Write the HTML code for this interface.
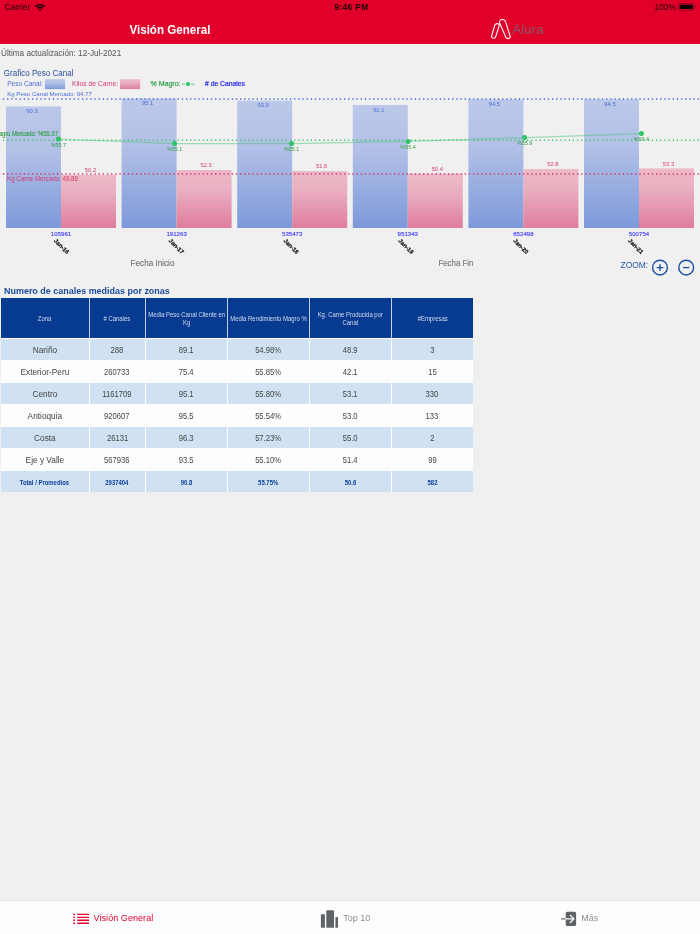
<!DOCTYPE html>
<html lang="es">
<head>
<meta charset="utf-8">
<title>Visión General</title>
<style>
html,body{margin:0;padding:0;}
body{width:700px;height:934px;overflow:hidden;background:#f0f0f0;font-family:"Liberation Sans",sans-serif;position:relative;}
.abs{position:absolute;white-space:nowrap;}
#hdr{position:absolute;left:0;top:0;width:700px;height:44px;background:#e1002a;}
.sb{position:absolute;top:2.2px;font-size:8.4px;line-height:10px;color:#1a0006;white-space:nowrap;}
#title{position:absolute;left:127.6px;top:22px;width:80.6px;text-align:center;font-weight:bold;font-size:12px;line-height:16px;color:#fff;white-space:nowrap;}
#title span{display:inline-block;transform:scaleX(0.965);transform-origin:50% 50%;}
#upd{left:1px;top:47.7px;font-size:8.5px;line-height:11px;color:#555;transform:scaleX(0.96);transform-origin:0 50%;}
/* table */
#tbl{position:absolute;left:1px;top:297.5px;width:472px;background:#fff;padding-bottom:0.5px;}
.tr{display:flex;height:21px;margin-top:1px;}
.tr.h{height:40px;margin-top:0;}
.tr>div{padding-top:2px;white-space:nowrap;display:flex;align-items:center;justify-content:center;text-align:center;margin-right:1px;font-size:8.3px;color:#444;box-sizing:border-box;}
.tr>div:last-child{margin-right:0;}
.c1{width:88px}.c2{width:55px}.c3{width:81.5px}.c4{width:81px}.c5{width:81px}.c6{width:81.5px}
.tr.h{background:#c3cde3;}
.tr.h>div{background:#073b91;color:#d3dcee;font-size:6.6px;line-height:7.7px;padding-top:2.8px;}
.tr.b>div{background:#cfe1f2;}
.tr.w>div{background:#fdfdfd;}
.tr.t>div{background:#cfe1f2;color:#0b3f96;font-weight:bold;font-size:6.6px;}
.tr span{display:inline-block;transform:scaleX(0.92);}
.tr .c1 span{transform:scaleX(1.0);}
.tr.h span,.tr.h .c1 span{transform:scaleX(0.9);}
.tr.t span,.tr.t .c1 span{transform:scaleX(0.9);}
#ttl2{left:4.3px;top:286.3px;font-size:9.2px;line-height:11px;font-weight:bold;color:#1a4a9c;transform:scaleX(0.975);transform-origin:0 50%;}
/* tab bar */
#tab{position:absolute;left:0;top:900.2px;width:700px;height:34px;background:#fdfdfd;border-top:0.5px solid #e6e6e6;box-sizing:border-box;}
.tl{position:absolute;top:911.5px;font-size:9px;line-height:12px;white-space:nowrap;color:#8e8e93;}
</style>
</head>
<body>
<div id="hdr"></div>
<div class="sb" style="left:4.6px">Carrier</div>
<svg class="abs" style="left:35px;top:3.7px" width="10" height="7.2" viewBox="0 0 10 7.2"><g fill="none" stroke="#1a0006" stroke-width="1.5" stroke-linecap="butt"><path d="M0.5 2.6 A6.4 6.4 0 0 1 9.5 2.6"/><path d="M2.3 4.4 A3.9 3.9 0 0 1 7.7 4.4"/></g><path d="M5 7.2 L3.6 5.7 A2 2 0 0 1 6.4 5.7 Z" fill="#1a0006"/></svg>
<div class="sb" style="left:334.5px;font-weight:bold;letter-spacing:0.33px;">9:46 PM</div>
<div class="sb" style="left:654.5px;">100%</div>
<svg class="abs" style="left:677.5px;top:3.3px" width="19" height="7.6" viewBox="0 0 19 7.6"><rect x="0.4" y="0.4" width="15.8" height="6.8" rx="1.6" fill="none" stroke="#7a0018" stroke-width="0.8"/><rect x="1.7" y="1.7" width="13.2" height="4.2" rx="0.7" fill="#100004"/><path d="M17.1 2.5 A1.4 1.4 0 0 1 17.1 5.1 Z" fill="#7a0018"/></svg>
<div id="title"><span>Visión General</span></div>
<svg class="abs" style="left:488px;top:16px" width="60" height="26" viewBox="488 16 60 26">
<g fill="none" stroke="#fff" stroke-width="1.1" stroke-linejoin="round" stroke-linecap="round">
<path d="M499.6 23 C499.0 21 500.6 19.5 502.6 19.5 C504.4 19.5 505.3 20.8 505.7 22.2 L510.1 36 C510.6 37.6 509.4 38.6 508 38.6 C506.8 38.6 506.2 38 505.8 37.2 Z"/>
<path d="M499.1 24.8 C498.7 24 498 23.6 497.2 23.6 C496 23.6 495.2 24.2 494.8 25.2 L491.6 36 C491.2 37.4 492.4 38.2 493.5 38.2 C494.6 38.2 495.4 37.6 495.7 36.8 L499.3 25.3"/>
</g>
<text x="512.6" y="33.8" font-family="Liberation Sans, sans-serif" font-size="13" fill="#82596a" textLength="30.7" lengthAdjust="spacingAndGlyphs">Alura</text>
</svg>
<div id="upd" class="abs">Última actualización: 12-Jul-2021</div>

<svg class="abs" style="left:0;top:60px" width="700" height="225" viewBox="0 60 700 225">
<defs><linearGradient id="gb" x1="0" y1="0" x2="0" y2="1"><stop offset="0" stop-color="#bcc8e9"/><stop offset="0.35" stop-color="#b3c1e7"/><stop offset="1" stop-color="#7d99d9"/></linearGradient><linearGradient id="gr" x1="0" y1="0" x2="0" y2="1"><stop offset="0" stop-color="#ecb9c7"/><stop offset="0.35" stop-color="#e9afc0"/><stop offset="1" stop-color="#e07c9d"/></linearGradient></defs>
<rect x="6.0" y="106.4" width="55" height="121.6" fill="url(#gb)"/>
<rect x="61.0" y="174.9" width="55" height="53.1" fill="url(#gr)"/>
<rect x="121.6" y="98.6" width="55" height="129.4" fill="url(#gb)"/>
<rect x="176.6" y="170.0" width="55" height="58.0" fill="url(#gr)"/>
<rect x="237.2" y="100.6" width="55" height="127.4" fill="url(#gb)"/>
<rect x="292.2" y="171.0" width="55" height="57.0" fill="url(#gr)"/>
<rect x="352.8" y="105.0" width="55" height="123.0" fill="url(#gb)"/>
<rect x="407.8" y="173.6" width="55" height="54.4" fill="url(#gr)"/>
<rect x="468.4" y="99.4" width="55" height="128.6" fill="url(#gb)"/>
<rect x="523.4" y="169.0" width="55" height="59.0" fill="url(#gr)"/>
<rect x="584.0" y="99.4" width="55" height="128.6" fill="url(#gb)"/>
<rect x="639.0" y="168.4" width="55" height="59.6" fill="url(#gr)"/>
<path d="M0 99 H700" stroke="#4a6fd6" stroke-width="1.5" stroke-dasharray="1.4 2.76" stroke-dashoffset="1.3" fill="none"/>
<path d="M0 140.2 H700" stroke="#45c673" stroke-width="1.4" stroke-dasharray="1.3 2.86" stroke-dashoffset="1.25" fill="none"/>
<path d="M0 174 H700" stroke="#d8386e" stroke-width="1.5" stroke-dasharray="1.4 2.76" stroke-dashoffset="1.3" fill="none"/>
<polyline points="58.4,139 174.6,143.6 291.6,143.6 408,141.4 524.6,137.6 641.4,133.6" fill="none" stroke="#45c877" stroke-width="1.1" stroke-opacity="0.5"/>
<circle cx="58.4" cy="139" r="2.5" fill="#2fc364"/>
<circle cx="174.6" cy="143.6" r="2.5" fill="#2fc364"/>
<circle cx="291.6" cy="143.6" r="2.5" fill="#2fc364"/>
<circle cx="408" cy="141.4" r="2.5" fill="#2fc364"/>
<circle cx="524.6" cy="137.6" r="2.5" fill="#2fc364"/>
<circle cx="641.4" cy="133.6" r="2.5" fill="#2fc364"/>
<text x="32.0" y="113.2" font-family="Liberation Sans, sans-serif" font-size="5.8" fill="#4a6fd6" text-anchor="middle">90.3</text>
<text x="90.5" y="172.0" font-family="Liberation Sans, sans-serif" font-size="5.8" fill="#d8386e" text-anchor="middle">50.2</text>
<text x="58.4" y="146.6" font-family="Liberation Sans, sans-serif" font-size="6" fill="#2e9e45" text-anchor="middle" textLength="15.4" lengthAdjust="spacingAndGlyphs">%55.7</text>
<text x="61.0" y="236" font-family="Liberation Sans, sans-serif" font-size="5.8" fill="#4848ff" stroke="#4848ff" stroke-width="0.15" text-anchor="middle" textLength="20.4" lengthAdjust="spacingAndGlyphs">105961</text>
<text x="61.6" y="248.3" font-family="Liberation Sans, sans-serif" font-size="5.9" font-weight="bold" fill="#111" stroke="#111" stroke-width="0.2" text-anchor="middle" textLength="18.6" lengthAdjust="spacingAndGlyphs" transform="rotate(45 61.6 246.2)">Jan-16</text>
<text x="147.6" y="105.4" font-family="Liberation Sans, sans-serif" font-size="5.8" fill="#4a6fd6" text-anchor="middle">95.1</text>
<text x="206.1" y="167.1" font-family="Liberation Sans, sans-serif" font-size="5.8" fill="#d8386e" text-anchor="middle">52.3</text>
<text x="174.6" y="151.2" font-family="Liberation Sans, sans-serif" font-size="6" fill="#2e9e45" text-anchor="middle" textLength="15.4" lengthAdjust="spacingAndGlyphs">%55.1</text>
<text x="176.6" y="236" font-family="Liberation Sans, sans-serif" font-size="5.8" fill="#4848ff" stroke="#4848ff" stroke-width="0.15" text-anchor="middle" textLength="20.4" lengthAdjust="spacingAndGlyphs">191263</text>
<text x="176.4" y="248.3" font-family="Liberation Sans, sans-serif" font-size="5.9" font-weight="bold" fill="#111" stroke="#111" stroke-width="0.2" text-anchor="middle" textLength="18.6" lengthAdjust="spacingAndGlyphs" transform="rotate(45 176.4 246.2)">Jan-17</text>
<text x="263.2" y="107.4" font-family="Liberation Sans, sans-serif" font-size="5.8" fill="#4a6fd6" text-anchor="middle">93.9</text>
<text x="321.7" y="168.1" font-family="Liberation Sans, sans-serif" font-size="5.8" fill="#d8386e" text-anchor="middle">51.6</text>
<text x="291.6" y="151.2" font-family="Liberation Sans, sans-serif" font-size="6" fill="#2e9e45" text-anchor="middle" textLength="15.4" lengthAdjust="spacingAndGlyphs">%55.1</text>
<text x="292.2" y="236" font-family="Liberation Sans, sans-serif" font-size="5.8" fill="#4848ff" stroke="#4848ff" stroke-width="0.15" text-anchor="middle" textLength="20.4" lengthAdjust="spacingAndGlyphs">535473</text>
<text x="291.3" y="248.3" font-family="Liberation Sans, sans-serif" font-size="5.9" font-weight="bold" fill="#111" stroke="#111" stroke-width="0.2" text-anchor="middle" textLength="18.6" lengthAdjust="spacingAndGlyphs" transform="rotate(45 291.3 246.2)">Jan-18</text>
<text x="378.8" y="111.8" font-family="Liberation Sans, sans-serif" font-size="5.8" fill="#4a6fd6" text-anchor="middle">91.1</text>
<text x="437.3" y="170.7" font-family="Liberation Sans, sans-serif" font-size="5.8" fill="#d8386e" text-anchor="middle">50.4</text>
<text x="408.0" y="149.0" font-family="Liberation Sans, sans-serif" font-size="6" fill="#2e9e45" text-anchor="middle" textLength="15.4" lengthAdjust="spacingAndGlyphs">%55.4</text>
<text x="407.8" y="236" font-family="Liberation Sans, sans-serif" font-size="5.8" fill="#4848ff" stroke="#4848ff" stroke-width="0.15" text-anchor="middle" textLength="20.4" lengthAdjust="spacingAndGlyphs">951343</text>
<text x="406.1" y="248.3" font-family="Liberation Sans, sans-serif" font-size="5.9" font-weight="bold" fill="#111" stroke="#111" stroke-width="0.2" text-anchor="middle" textLength="18.6" lengthAdjust="spacingAndGlyphs" transform="rotate(45 406.1 246.2)">Jan-19</text>
<text x="494.4" y="106.2" font-family="Liberation Sans, sans-serif" font-size="5.8" fill="#4a6fd6" text-anchor="middle">94.5</text>
<text x="552.9" y="166.1" font-family="Liberation Sans, sans-serif" font-size="5.8" fill="#d8386e" text-anchor="middle">52.8</text>
<text x="524.6" y="145.2" font-family="Liberation Sans, sans-serif" font-size="6" fill="#2e9e45" text-anchor="middle" textLength="15.4" lengthAdjust="spacingAndGlyphs">%55.9</text>
<text x="523.4" y="236" font-family="Liberation Sans, sans-serif" font-size="5.8" fill="#4848ff" stroke="#4848ff" stroke-width="0.15" text-anchor="middle" textLength="20.4" lengthAdjust="spacingAndGlyphs">652498</text>
<text x="521.0" y="248.3" font-family="Liberation Sans, sans-serif" font-size="5.9" font-weight="bold" fill="#111" stroke="#111" stroke-width="0.2" text-anchor="middle" textLength="18.6" lengthAdjust="spacingAndGlyphs" transform="rotate(45 521.0 246.2)">Jan-20</text>
<text x="610.0" y="106.2" font-family="Liberation Sans, sans-serif" font-size="5.8" fill="#4a6fd6" text-anchor="middle">94.5</text>
<text x="668.5" y="165.5" font-family="Liberation Sans, sans-serif" font-size="5.8" fill="#d8386e" text-anchor="middle">53.3</text>
<text x="641.4" y="141.2" font-family="Liberation Sans, sans-serif" font-size="6" fill="#2e9e45" text-anchor="middle" textLength="15.4" lengthAdjust="spacingAndGlyphs">%56.4</text>
<text x="639.0" y="236" font-family="Liberation Sans, sans-serif" font-size="5.8" fill="#4848ff" stroke="#4848ff" stroke-width="0.15" text-anchor="middle" textLength="20.4" lengthAdjust="spacingAndGlyphs">500754</text>
<text x="635.9" y="248.3" font-family="Liberation Sans, sans-serif" font-size="5.9" font-weight="bold" fill="#111" stroke="#111" stroke-width="0.2" text-anchor="middle" textLength="18.6" lengthAdjust="spacingAndGlyphs" transform="rotate(45 635.9 246.2)">Jan-21</text>
<text x="3.8" y="75.8" font-family="Liberation Sans, sans-serif" font-size="8.3" fill="#2a4d9b" textLength="69.6" lengthAdjust="spacingAndGlyphs">Grafico Peso Canal</text>
<text x="7.2" y="86" font-family="Liberation Sans, sans-serif" font-size="7" fill="#4a6fd6" textLength="35.7" lengthAdjust="spacingAndGlyphs">Peso Canal:</text>
<rect x="44.9" y="79.2" width="20.2" height="9.9" fill="url(#gb)"/>
<text x="72" y="86" font-family="Liberation Sans, sans-serif" font-size="7" fill="#d8386e" textLength="46" lengthAdjust="spacingAndGlyphs">Kilos de Carne:</text>
<rect x="120" y="79.2" width="20.2" height="9.9" fill="url(#gr)"/>
<text x="150.5" y="86" font-family="Liberation Sans, sans-serif" font-size="7" fill="#2e9e45" stroke="#2e9e45" stroke-width="0.2" textLength="30" lengthAdjust="spacingAndGlyphs">% Magro:</text>
<path d="M181.8 84.2 H185 M191.2 84.2 H194.4" stroke="#3fc571" stroke-width="0.9" fill="none"/><circle cx="188" cy="84.1" r="2.1" fill="#2fc364"/>
<text x="205" y="86" font-family="Liberation Sans, sans-serif" font-size="7" fill="#2222ee" stroke="#2222ee" stroke-width="0.2" textLength="40" lengthAdjust="spacingAndGlyphs"># de Canales</text>
<text x="7.2" y="95.7" font-family="Liberation Sans, sans-serif" font-size="6.2" fill="#4a6fd6" textLength="84.8" lengthAdjust="spacingAndGlyphs">Kg Peso Canal Mercado: 94.77</text>
<text x="-13.1" y="136" font-family="Liberation Sans, sans-serif" font-size="7" fill="#2e9e45" stroke="#2e9e45" stroke-width="0.15" textLength="71.1" lengthAdjust="spacingAndGlyphs">% Magro Mercado: %55.57</text>
<text x="7" y="180.6" font-family="Liberation Sans, sans-serif" font-size="6.4" fill="#d8386e" textLength="71" lengthAdjust="spacingAndGlyphs">Kg Carne Mercado: 49.86</text>
<text x="130.6" y="266" font-family="Liberation Sans, sans-serif" font-size="9.4" fill="#777" stroke="#777" stroke-width="0.15" textLength="43.8" lengthAdjust="spacingAndGlyphs">Fecha Inicio</text>
<text x="438.4" y="266" font-family="Liberation Sans, sans-serif" font-size="9.4" fill="#777" stroke="#777" stroke-width="0.15" textLength="35" lengthAdjust="spacingAndGlyphs">Fecha Fin</text>
<text x="620.5" y="268" font-family="Liberation Sans, sans-serif" font-size="8.2" fill="#2a55a5" textLength="27.7" lengthAdjust="spacingAndGlyphs">ZOOM:</text>
<g fill="none" stroke="#1f4fa3" stroke-width="1.4"><circle cx="660" cy="267.6" r="7.4"/><circle cx="686.2" cy="267.6" r="7.4"/><path d="M656.7 267.6 H663.3 M660 264.3 V270.9 M682.9 267.6 H689.5"/></g>
</svg>

<div id="ttl2" class="abs">Numero de canales medidas por zonas</div>
<div id="tbl">
<div class="tr h"><div class="c1"><span>Zona</span></div><div class="c2"><span># Canales</span></div><div class="c3"><span>Media Peso Canal Cliente en<br>Kg</span></div><div class="c4"><span>Media Rendimiento Magro %</span></div><div class="c5"><span>Kg. Carne Producida por<br>Canal</span></div><div class="c6"><span>#Empresas</span></div></div>
<div class="tr b"><div class="c1"><span>Nariño</span></div><div class="c2"><span>288</span></div><div class="c3"><span>89.1</span></div><div class="c4"><span>54.98%</span></div><div class="c5"><span>48.9</span></div><div class="c6"><span>3</span></div></div>
<div class="tr w"><div class="c1"><span>Exterior-Peru</span></div><div class="c2"><span>260733</span></div><div class="c3"><span>75.4</span></div><div class="c4"><span>55.85%</span></div><div class="c5"><span>42.1</span></div><div class="c6"><span>15</span></div></div>
<div class="tr b"><div class="c1"><span>Centro</span></div><div class="c2"><span>1161709</span></div><div class="c3"><span>95.1</span></div><div class="c4"><span>55.80%</span></div><div class="c5"><span>53.1</span></div><div class="c6"><span>330</span></div></div>
<div class="tr w"><div class="c1"><span>Antioquia</span></div><div class="c2"><span>920607</span></div><div class="c3"><span>95.5</span></div><div class="c4"><span>55.54%</span></div><div class="c5"><span>53.0</span></div><div class="c6"><span>133</span></div></div>
<div class="tr b"><div class="c1"><span>Costa</span></div><div class="c2"><span>26131</span></div><div class="c3"><span>96.3</span></div><div class="c4"><span>57.23%</span></div><div class="c5"><span>55.0</span></div><div class="c6"><span>2</span></div></div>
<div class="tr w"><div class="c1"><span>Eje y Valle</span></div><div class="c2"><span>567936</span></div><div class="c3"><span>93.5</span></div><div class="c4"><span>55.10%</span></div><div class="c5"><span>51.4</span></div><div class="c6"><span>99</span></div></div>
<div class="tr t"><div class="c1"><span>Total / Promedios</span></div><div class="c2"><span>2937404</span></div><div class="c3"><span>90.8</span></div><div class="c4"><span>55.75%</span></div><div class="c5"><span>50.6</span></div><div class="c6"><span>582</span></div></div>
</div>

<div id="tab"></div>
<svg class="abs" style="left:72px;top:912px" width="18" height="14" viewBox="72 912 18 14"><g fill="#e1002a"><circle cx="74.1" cy="914.4" r="0.9"/><circle cx="74.1" cy="917.3" r="0.9"/><circle cx="74.1" cy="920.25" r="0.9"/><circle cx="74.1" cy="923.25" r="0.9"/><rect x="77.2" y="913.75" width="11.9" height="1.3" rx="0.3"/><rect x="77.2" y="916.65" width="11.9" height="1.3" rx="0.3"/><rect x="77.2" y="919.6" width="11.9" height="1.3" rx="0.3"/><rect x="77.2" y="922.6" width="11.9" height="1.3" rx="0.3"/></g></svg>
<div class="tl" style="left:93.6px;color:#e1002a;letter-spacing:0.06px;">Visión General</div>
<svg class="abs" style="left:320px;top:909px" width="19" height="20" viewBox="320 909 19 20"><g fill="#5f6368"><rect x="320.9" y="914.3" width="4" height="13.5" rx="0.7"/><rect x="326.3" y="910.3" width="7.7" height="17.5" rx="0.9"/><rect x="335.4" y="916.9" width="2.6" height="10.9" rx="0.6"/></g></svg>
<div class="tl" style="left:343.3px;">Top 10</div>
<svg class="abs" style="left:560px;top:910px" width="18" height="18" viewBox="560 910 18 18"><rect x="565.7" y="911.8" width="10.4" height="14.3" rx="1.6" fill="#5f6368"/><path d="M561.1 918.9 H565.7" stroke="#5f6368" stroke-width="1.2" fill="none"/><path d="M565.7 918.9 H573.6 M570.3 915.3 L574 918.9 L570.3 922.5" stroke="#fff" stroke-width="1.2" fill="none" stroke-linecap="round" stroke-linejoin="round"/></svg>
<div class="tl" style="left:581.2px;">Más</div>
</body>
</html>
